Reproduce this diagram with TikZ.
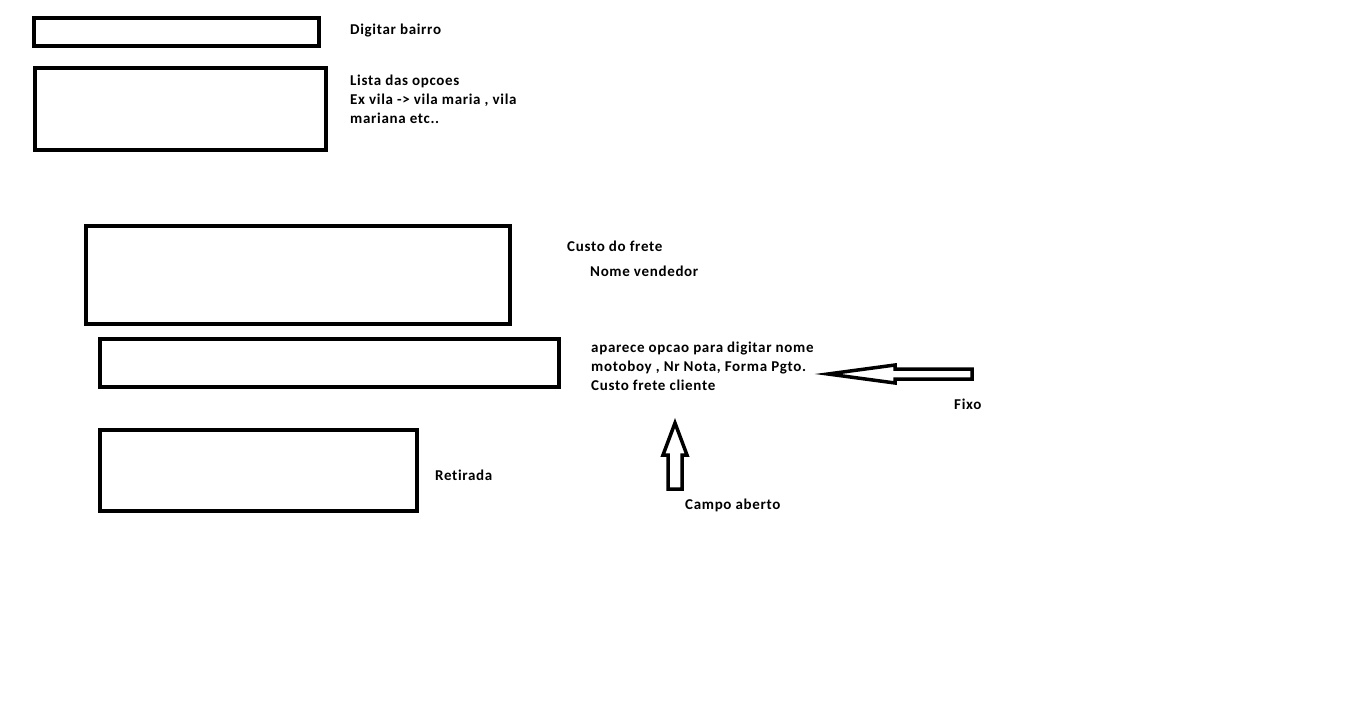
\documentclass[tikz,border=0pt]{standalone}
\usepackage{fontspec}
\setmainfont{Carlito}[LetterSpace=4.5,Ligatures={NoCommon}]
\begin{document}
\begin{tikzpicture}[x=1pt,y=-1pt,
  box/.style={draw=black,line width=4pt},
  lbl/.style={anchor=west,align=left,inner sep=0pt,font=\fontsize{15}{19}\selectfont\bfseries},
  blockarrow/.style={draw=black,line width=3.5pt,line join=miter,fill=white}]
\useasboundingbox[fill=white] (0,0) rectangle (1353,720);
% boxes
\draw[box] (34,18) rectangle (319,46);
\draw[box] (35,68) rectangle (326,150);
\draw[box] (86,226) rectangle (510,324);
\draw[box] (100,339) rectangle (559,387);
\draw[box] (100,430) rectangle (417,511);
% labels
\node[lbl] (t1) at (350,31) {Digitar bairro};
\node[lbl] (t2) at (350,99) {Lista das opcoes\\Ex vila -> vila maria , vila\\mariana etc..};
\node[lbl] (t3) at (567,246) {Custo do frete};
\node[lbl] (t4) at (590,271) {Nome vendedor};
\node[lbl] (t5) at (591,366) {aparece opcao para digitar nome\\motoboy , Nr Nota, Forma Pgto.\\Custo frete cliente};
\node[lbl] (t6) at (954,404) {Fixo};
\node[lbl] (t7) at (435,475) {Retirada};
\node[lbl] (t8) at (685,505) {Campo aberto};
% block arrows
\draw[blockarrow] (828,374) -- (895,365) -- (895,369) -- (972,369) -- (972,379) -- (895,379) -- (895,383) -- cycle;
\draw[blockarrow] (675,423) -- (687,455) -- (682,455) -- (682,489) -- (668,489) -- (668,455) -- (663,455) -- cycle;
\end{tikzpicture}
\end{document}
